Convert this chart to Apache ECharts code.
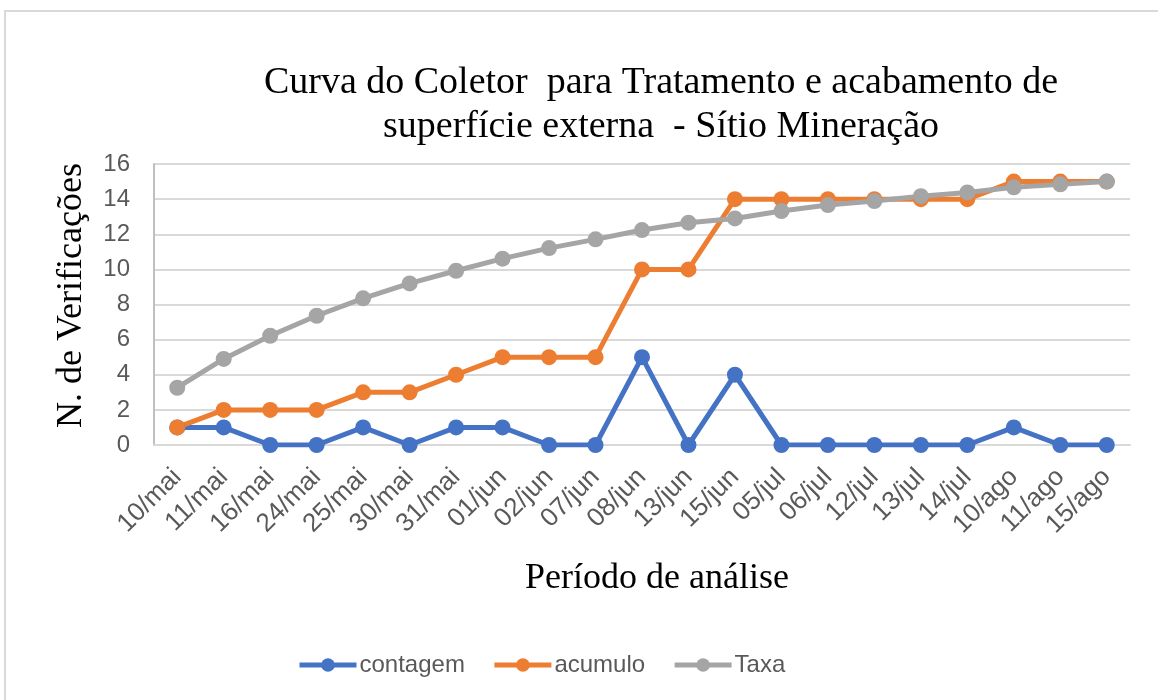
<!DOCTYPE html>
<html>
<head>
<meta charset="utf-8">
<script src="https://cdn.jsdelivr.net/npm/echarts@6/dist/echarts.min.js"></script>
<style>
    html, body { margin: 0; padding: 0; background: #fff; }
    #chart { width: 1158px; height: 700px; }
</style>
</head>
<body>
<div id="chart"></div>
<script>
const datas = ['10/mai', '11/mai', '16/mai', '24/mai', '25/mai', '30/mai', '31/mai', '01/jun', '02/jun', '07/jun',
    '08/jun', '13/jun', '15/jun', '05/jul', '06/jul', '12/jul', '13/jul', '14/jul', '10/ago', '11/ago', '15/ago'];
const contagem = [1, 1, 0, 0, 1, 0, 1, 1, 0, 0, 5, 0, 4, 0, 0, 0, 0, 0, 1, 0, 0];
const acumulo = [1, 2, 2, 2, 3, 3, 4, 5, 5, 5, 10, 10, 14, 14, 14, 14, 14, 14, 15, 15, 15];
const taxa = [3.26, 4.9, 6.22, 7.36, 8.35, 9.2, 9.92, 10.61, 11.21, 11.71,
    12.24, 12.66, 12.9, 13.32, 13.66, 13.89, 14.17, 14.38, 14.67, 14.84, 15];

const colorBlue = '#4472C4';
const colorOrange = '#ED7D31';
const colorGray = '#A5A5A5';
const colorText = '#595959';
const serif = '"Liberation Serif", "DejaVu Serif", serif';
const sans = '"Liberation Sans", Arial, sans-serif';

function lineSeries(name, data, color) {
    return {
        name: name,
        type: 'line',
        data: data,
        symbol: 'circle',
        symbolSize: 16,
        lineStyle: { color: color, width: 5 },
        itemStyle: { color: color },
        emphasis: { disabled: true }
    };
}

const chart = echarts.init(document.getElementById('chart'));
chart.setOption({
    animation: false,
    title: {
        text: 'Curva do Coletor  para Tratamento e acabamento de\nsuperfície externa  - Sítio Mineração',
        left: 656,
        top: 56,
        textAlign: 'center',
        textStyle: {
            fontFamily: serif,
            fontSize: 38,
            fontWeight: 'normal',
            color: '#000',
            lineHeight: 44
        }
    },
    graphic: [{
        type: 'rect',
        shape: { x: 5, y: 11, width: 1300, height: 900 },
        style: { fill: 'none', stroke: '#d9d9d9', lineWidth: 2 },
        silent: true
    }],
    legend: {
        left: 292,
        top: 648,
        itemWidth: 57,
        itemHeight: 17,
        itemGap: 27,
        lineStyle: { width: 5 },
        textStyle: { fontFamily: sans, fontSize: 24, color: colorText, padding: [0, 0, 0, -2] },
        data: ['contagem', 'acumulo', 'Taxa']
    },
    grid: {
        left: 154,
        right: 28,
        top: 164,
        bottom: 255
    },
    xAxis: {
        type: 'category',
        data: datas,
        name: 'Período de análise',
        nameLocation: 'middle',
        nameGap: 116,
        nameTextStyle: { fontFamily: serif, fontSize: 36, color: '#000', padding: [0, 0, 0, 30] },
        axisLine: { lineStyle: { color: '#d9d9d9', width: 2 } },
        axisTick: { show: false },
        axisLabel: {
            rotate: 45,
            margin: 28,
            fontFamily: sans,
            fontSize: 26,
            color: colorText,
            interval: 0
        }
    },
    yAxis: {
        type: 'value',
        min: 0,
        max: 16,
        interval: 2,
        name: 'N. de Verificações',
        nameLocation: 'middle',
        nameGap: 64,
        nameTextStyle: { fontFamily: serif, fontSize: 36, color: '#000', padding: [0, 0, 0, 18] },
        axisLine: { show: true, lineStyle: { color: '#bfbfbf', width: 2 } },
        axisTick: { show: false },
        axisLabel: { fontFamily: sans, fontSize: 24, color: colorText, margin: 24 },
        splitLine: { lineStyle: { color: '#d9d9d9', width: 2 } }
    },
    series: [
        lineSeries('contagem', contagem, colorBlue),
        lineSeries('acumulo', acumulo, colorOrange),
        lineSeries('Taxa', taxa, colorGray)
    ]
});
</script>
</body>
</html>
